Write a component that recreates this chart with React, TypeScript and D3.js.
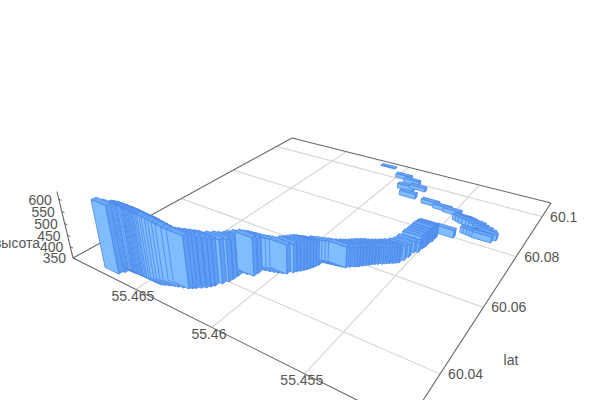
import { useEffect, useRef } from 'react';
import * as d3 from 'd3';

const lonTicks = [55.465, 55.46, 55.455];
const latTicks = [60.04, 60.06, 60.08, 60.1];
const altTicks = [350, 400, 450, 500, 550, 600];

const lon = [
    55.46727, 55.46711, 55.46684, 55.46672, 55.46661, 55.46652, 55.46643, 55.46635, 55.46626, 55.46619,
    55.46612, 55.46601, 55.46591, 55.46583, 55.46576, 55.46568, 55.4656, 55.46551, 55.46543, 55.46534,
    55.46525, 55.46515, 55.46506, 55.46497, 55.46485, 55.46475, 55.46465, 55.46455, 55.46441, 55.46428,
    55.4641, 55.46393, 55.46366, 55.4634, 55.46325, 55.46311, 55.46292, 55.46273, 55.4626, 55.46249,
    55.4623, 55.46214, 55.4621, 55.46208, 55.4621, 55.46177, 55.46142, 55.46139, 55.46141, 55.46119,
    55.46098, 55.46075, 55.46053, 55.46033, 55.46014, 55.45993, 55.45982, 55.4597, 55.4596, 55.4595,
    55.45942, 55.45935, 55.45929, 55.45923, 55.45911, 55.45892, 55.45873, 55.45851, 55.4583, 55.45812,
    55.45795, 55.4578, 55.45764, 55.45753, 55.45742, 55.4573, 55.45719, 55.45708, 55.45698, 55.45685,
    55.45671, 55.45655, 55.4564, 55.45626, 55.45612, 55.456, 55.45589, 55.45577, 55.4557, 55.45566,
    55.45548, 55.45554, 55.45544, 55.45542, 55.4554, 55.45538, 55.45538, 55.4553, 55.45535, 55.45532,
    55.45529, 55.45449, 55.45334, 55.45315, 55.45296, 55.45278, 55.45261, 55.45245, 55.4526, 55.45286,
    55.45315, 55.45337, 55.4536, 55.45383, 55.45403, 55.45424, 55.45507, 55.45575, 55.45661, 55.45819,
    55.45872, 55.45808, 55.45877, 55.45954, 55.46121,
];
const lat = [
    60.03016, 60.0312, 60.03216, 60.0322, 60.03224, 60.03228, 60.03232, 60.03236, 60.0324, 60.0324,
    60.0324, 60.03246, 60.03252, 60.0325, 60.03248, 60.03248, 60.03248, 60.03248, 60.03248, 60.03246,
    60.03248, 60.03244, 60.0324, 60.03242, 60.03243, 60.03244, 60.03262, 60.0328, 60.03304, 60.03328,
    60.03352, 60.03376, 60.03412, 60.03448, 60.03492, 60.03536, 60.036, 60.03664, 60.03732, 60.038,
    60.03936, 60.04056, 60.04176, 60.04304, 60.04432, 60.04456, 60.0448, 60.04608, 60.04736, 60.0476,
    60.04784, 60.04812, 60.0484, 60.04872, 60.04904, 60.05016, 60.05076, 60.05136, 60.05192, 60.05248,
    60.0531, 60.05376, 60.05448, 60.0552, 60.05648, 60.05664, 60.0568, 60.05696, 60.05712, 60.05728,
    60.05744, 60.05804, 60.05864, 60.059, 60.05936, 60.05988, 60.0604, 60.06084, 60.06128, 60.06176,
    60.06224, 60.06272, 60.0632, 60.06368, 60.06416, 60.0646, 60.06504, 60.0664, 60.068, 60.07016,
    60.0708, 60.072, 60.0726, 60.0732, 60.0738, 60.0744, 60.07552, 60.0762, 60.0768, 60.0774,
    60.078, 60.08032, 60.0834, 60.08326, 60.08312, 60.08298, 60.08282, 60.08424, 60.085, 60.0856,
    60.0862, 60.08692, 60.087, 60.0872, 60.08755, 60.0879, 60.09022, 60.09073, 60.0915, 60.09239,
    60.09562, 60.09729, 60.09962, 60.10121, 60.10553,
];
const alt = [
    630, 618, 612, 613, 614, 614, 615, 614, 614, 613,
    613, 613, 613, 612, 612, 611, 611, 610, 610, 610,
    610, 609, 609, 609, 609, 609, 605, 600, 595, 590,
    584, 578, 570, 564, 562, 560, 556, 552, 546, 540,
    530, 523, 511, 500, 493, 502, 509, 495, 481, 479,
    478, 476, 475, 474, 472, 469, 467, 466, 465, 464,
    459, 452, 446, 439, 431, 432, 434, 435, 437, 438,
    438, 435, 433, 432, 431, 430, 429, 428, 427, 426,
    425, 422, 421, 420, 419, 418, 418, 411, 403, 398,
    393, 406, 409, 411, 412, 413, 414, 413, 411, 409,
    406, 383, 376, 376, 377, 376, 376, 375, 375, 376,
    375, 375, 376, 376, 376, 375, 368, 368, 368, 372,
    372, 366, 368, 367, 353,
];

// floor of the 3d box on screen
const cornerA = [73, 258]; // lon max, lat min
const cornerB = [407, 425]; // lon min, lat min
const cornerC = [551, 203];
const cornerD = [292, 138];
const axisTop = [57, 194];
const vanishZ = [300, 1200];

const lonDomain = [55.46995, 55.45053];
const latDomain = [60.028, 60.108];
const altDomain = [350, 630];
const barLon = 0.00107;
const barLat = 0.0012;

const lonScale = d3.scaleLinear().domain(lonDomain).range([0, 1]);
const latScale = d3.scaleLinear().domain(latDomain).range([0, 1]);
const altScale = d3.scaleLinear().domain(altDomain).range([0, 1]);

const dx1 = cornerB[0] - cornerC[0];
const dx2 = cornerD[0] - cornerC[0];
const sx = cornerA[0] - cornerB[0] + cornerC[0] - cornerD[0];
const dy1 = cornerB[1] - cornerC[1];
const dy2 = cornerD[1] - cornerC[1];
const sy = cornerA[1] - cornerB[1] + cornerC[1] - cornerD[1];
const den = dx1 * dy2 - dx2 * dy1;
const g = (sx * dy2 - dx2 * sy) / den;
const h = (dx1 * sy - sx * dy1) / den;
const a = cornerB[0] - cornerA[0] + g * cornerB[0];
const b = cornerD[0] - cornerA[0] + h * cornerD[0];
const d = cornerB[1] - cornerA[1] + g * cornerB[1];
const e = cornerD[1] - cornerA[1] + h * cornerD[1];
const zw = (axisTop[0] - cornerA[0]) / (vanishZ[0] - axisTop[0]);

const depth = (s: number, t: number) => 1 + g * s + h * t;

const project = (s: number, t: number, r: number): [number, number] => {
    const w = depth(s, t) + zw * r;
    return [
        (a * s + b * t + cornerA[0] + zw * vanishZ[0] * r) / w,
        (d * s + e * t + cornerA[1] + zw * vanishZ[1] * r) / w,
    ];
};

const polyLine = d3.line();

const App = () => {
    const svgRef = useRef<SVGSVGElement>(null);

    useEffect(() => {
        const svg = d3.select(svgRef.current);
        svg.selectAll('*').remove();

        const addLine = (p: [number, number], q: [number, number], color: string, width: number) => {
            svg.append('line')
                .attr('x1', p[0])
                .attr('y1', p[1])
                .attr('x2', q[0])
                .attr('y2', q[1])
                .attr('stroke', color)
                .attr('stroke-width', width);
        };
        const addText = (x: number, y: number, label: string, anchor: string) => {
            svg.append('text')
                .attr('x', x)
                .attr('y', y)
                .attr('dy', '0.35em')
                .attr('text-anchor', anchor)
                .attr('fill', '#555')
                .style('font-family', '"Liberation Sans", Arial, sans-serif')
                .style('font-size', '14px')
                .text(label);
        };

        // grid on the floor
        lonTicks.forEach(v => {
            const s = lonScale(v);
            addLine(project(s, 0, 0), project(s, 1, 0), '#d8d8d8', 1.2);
        });
        latTicks.forEach(v => {
            const t = latScale(v);
            addLine(project(0, t, 0), project(1, t, 0), '#d8d8d8', 1.2);
        });

        // box edges
        addLine(project(0, 0, 0), project(1, 0, 0), '#666', 1.1);
        addLine(project(1, 0, 0), project(1, 1, 0), '#666', 1.1);
        addLine(project(0, 0, 0), project(0, 1, 0), '#666', 1.1);
        addLine(project(0, 1, 0), project(1, 1, 0), '#666', 1.1);
        addLine(project(0, 0, 0), project(0, 0, 1), '#666', 1.1);

        altTicks.forEach(v => {
            addLine(project(0, 0, altScale(v)), project(0.012, 0, altScale(v)), '#666', 1);
            const p = project(0, 0, altScale(v));
            addText(p[0] - 7, p[1] + 0.5, String(v), 'end');
        });

        lonTicks.forEach(v => {
            const p = project(lonScale(v), 0, 0);
            addText(p[0] - 3, p[1] + 6.5, String(v), 'middle');
        });
        latTicks.forEach(v => {
            const p = project(1, latScale(v), 0);
            addText(p[0] + 8, p[1], String(v), 'start');
        });

        addText(511, 360, 'lat', 'middle');
        addText(17, 243, 'высота', 'middle');

        // bars, far ones first
        const bars = lon
            .map((v, i) => ({ s: lonScale(v), t: latScale(lat[i]), r: altScale(alt[i]) }))
            .sort((p, q) => depth(q.s, q.t) - depth(p.s, p.t));

        const ds = barLon / (lonDomain[0] - lonDomain[1]) / 2;
        const dt = barLat / (latDomain[1] - latDomain[0]) / 2;

        const faces = svg
            .append('g')
            .attr('stroke', '#4a86ea')
            .attr('stroke-width', 0.8)
            .attr('stroke-linejoin', 'round');
        bars.forEach(({ s, t, r }) => {
            const s0 = s - ds;
            const s1 = s + ds;
            const t0 = t - dt;
            const t1 = t + dt;
            const side: [number, number][] = [
                project(s1, t0, 0),
                project(s1, t1, 0),
                project(s1, t1, r),
                project(s1, t0, r),
            ];
            const top: [number, number][] = [
                project(s0, t0, r),
                project(s1, t0, r),
                project(s1, t1, r),
                project(s0, t1, r),
            ];
            const front: [number, number][] = [
                project(s0, t0, 0),
                project(s1, t0, 0),
                project(s1, t0, r),
                project(s0, t0, r),
            ];
            faces.append('path').attr('d', `${polyLine(side)}Z`).attr('fill', '#5e9ef5');
            faces.append('path').attr('d', `${polyLine(top)}Z`).attr('fill', '#6aa8fa');
            faces.append('path').attr('d', `${polyLine(front)}Z`).attr('fill', '#80bdff');
        });
    }, []);

    return (
        <svg
            ref={svgRef}
            width={600}
            height={400}
            style={{ position: 'absolute', left: 0, top: 0, background: '#fff' }}
        ></svg>
    );
};

export default App;
